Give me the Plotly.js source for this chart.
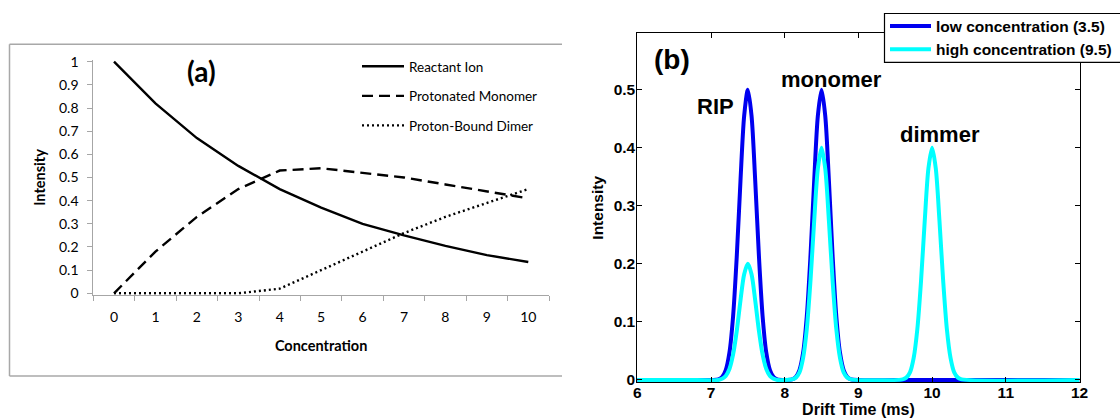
<!DOCTYPE html>
<html><head><meta charset="utf-8">
<script src="https://cdn.plot.ly/plotly-3.0.1.min.js"></script>
<style>html,body{margin:0;padding:0;background:#fff}#chart{width:1120px;height:419px}</style>
</head><body><div id="chart"></div>
<script>
// ---------- Panel (a) data ----------
const concentration = ['0','1','2','3','4','5','6','7','8','9','10'];
const reactantIon       = [1.0, 0.82, 0.67, 0.55, 0.45, 0.37, 0.30, 0.25, 0.205, 0.165, 0.135];
const protonatedMonomer = [0.0, 0.18, 0.33, 0.45, 0.53, 0.54, 0.52, 0.50, 0.47, 0.44, 0.41];
const protonBoundDimer  = [0.0, 0.0, 0.0, 0.0, 0.02, 0.10, 0.18, 0.26, 0.33, 0.39, 0.45];
const seriesNamesA = ['Reactant Ion', 'Protonated Monomer', 'Proton-Bound Dimer'];

// ---------- Panel (b) data ----------
const driftTime = [6, 6.65, 7.1, 7.15, 7.2, 7.25, 7.3, 7.35, 7.4, 7.45, 7.5, 7.55, 7.6, 7.65, 7.7, 7.75, 7.8, 7.85, 7.9,
  8.1, 8.15, 8.2, 8.25, 8.3, 8.35, 8.4, 8.45, 8.5, 8.55, 8.6, 8.65, 8.7, 8.75, 8.8, 8.85, 8.9,
  9.6, 9.65, 9.7, 9.75, 9.8, 9.85, 9.9, 9.95, 10.0, 10.05, 10.1, 10.15, 10.2, 10.25, 10.3, 10.35, 10.4, 12];
const lowConcentration = [0, 0, 0.001, 0.005, 0.017, 0.047, 0.110, 0.214, 0.343, 0.455, 0.5, 0.455, 0.343, 0.214, 0.110, 0.047, 0.017, 0.005, 0.001,
  0.001, 0.005, 0.017, 0.047, 0.110, 0.214, 0.343, 0.455, 0.5, 0.455, 0.343, 0.214, 0.110, 0.047, 0.017, 0.005, 0.001,
  0, 0, 0, 0, 0, 0, 0, 0, 0, 0, 0, 0, 0, 0, 0, 0, 0, 0];
const highConcentration = [0, 0, 0, 0.002, 0.007, 0.019, 0.044, 0.085, 0.137, 0.182, 0.2, 0.182, 0.137, 0.085, 0.044, 0.019, 0.007, 0.002, 0,
  0.001, 0.004, 0.013, 0.038, 0.088, 0.171, 0.274, 0.364, 0.4, 0.364, 0.274, 0.171, 0.088, 0.038, 0.013, 0.004, 0.001,
  0.001, 0.004, 0.013, 0.038, 0.088, 0.171, 0.274, 0.364, 0.4, 0.364, 0.274, 0.171, 0.088, 0.038, 0.013, 0.004, 0.001, 0];
const seriesNamesB = ['low concentration (3.5)', 'high concentration (9.5)'];
const peakLabels = ['RIP', 'monomer', 'dimmer'];

const W = 1120, H = 419;
const px = v => v / W, py = v => (H - v) / H;

const fontA = 'Lato, "Open Sans", sans-serif';
const fontB = '"Liberation Sans", Arial, sans-serif';
const grey = '#a6a6a6';

const traces = [
  {x: concentration, y: reactantIon, name: seriesNamesA[0], type: 'scatter', mode: 'lines',
   line: {color: '#000', width: 2.4}, xaxis: 'x', yaxis: 'y', legend: 'legend', legendgroup: 'a1'},
  {x: concentration, y: protonatedMonomer, name: seriesNamesA[1], type: 'scatter', mode: 'lines',
   line: {color: '#000', width: 2.4, dash: '11px,6px'}, xaxis: 'x', yaxis: 'y', legend: 'legend', legendgroup: 'a2'},
  {x: concentration, y: protonBoundDimer, name: seriesNamesA[2], type: 'scatter', mode: 'lines',
   line: {color: '#000', width: 2.4, dash: '2px,3px'}, xaxis: 'x', yaxis: 'y', legend: 'legend', legendgroup: 'a3'},
  {x: driftTime, y: lowConcentration, name: seriesNamesB[0], type: 'scatter', mode: 'lines',
   line: {color: '#0000f0', width: 4, shape: 'spline', smoothing: 0.8}, xaxis: 'x2', yaxis: 'y2', legend: 'legend2', legendgroup: 'b1'},
  {x: driftTime, y: highConcentration, name: seriesNamesB[1], type: 'scatter', mode: 'lines',
   line: {color: '#00ffff', width: 4, shape: 'spline', smoothing: 0.8}, xaxis: 'x2', yaxis: 'y2', legend: 'legend2', legendgroup: 'b2'}
];

const layout = {
  width: W, height: H,
  margin: {l: 0, r: 0, t: 0, b: 0},
  paper_bgcolor: '#fff', plot_bgcolor: 'rgba(0,0,0,0)',
  showlegend: true,
  xaxis: {
    type: 'category', domain: [px(93.3), px(549)], range: [-0.5, 10.5],
    anchor: 'y', tickson: 'boundaries', ticks: 'outside', ticklen: 5, tickcolor: grey,
    showline: true, linecolor: grey, linewidth: 1, showgrid: false, zeroline: false,
    tickfont: {family: fontA, size: 14, color: '#000'}, ticklabelstandoff: 9,
    title: {text: '<b>Concentration</b>', font: {family: fontA, size: 14.5, color: '#000'}, standoff: 17}
  },
  yaxis: {
    domain: [py(294.7), py(60.3)], range: [-0.006, 1.006], anchor: 'x',
    tickvals: [0,0.1,0.2,0.3,0.4,0.5,0.6,0.7,0.8,0.9,1], ticktext: ['0','0.1','0.2','0.3','0.4','0.5','0.6','0.7','0.8','0.9','1'],
    ticks: 'outside', ticklen: 5, tickcolor: grey,
    showline: true, linecolor: grey, linewidth: 1, showgrid: false, zeroline: false,
    tickfont: {family: fontA, size: 14, color: '#000'}, ticklabelstandoff: 6,
    title: {text: '<b>Intensity</b>', font: {family: fontA, size: 14.5, color: '#000'}, standoff: 9}
  },
  xaxis2: {
    domain: [px(637.3), px(1079.5)], range: [6, 12], anchor: 'y2', dtick: 1,
    ticks: 'inside', ticklen: 5, tickcolor: '#000', mirror: 'ticks',
    showline: true, linecolor: '#000', linewidth: 1, showgrid: false, zeroline: false,
    tickfont: {family: fontB, size: 15.5, color: '#000', weight: 'bold'}, ticklabelstandoff: -4,
    title: {text: '<b>Drift Time (ms)</b>', font: {family: fontB, size: 16, color: '#000'}, standoff: 0}
  },
  yaxis2: {
    domain: [py(382.3), py(33.3)], range: [-0.004, 0.597], anchor: 'x2',
    tickvals: [0,0.1,0.2,0.3,0.4,0.5], ticktext: ['0','0.1','0.2','0.3','0.4','0.5'],
    ticks: 'inside', ticklen: 5, tickcolor: '#000', mirror: 'ticks',
    showline: true, linecolor: '#000', linewidth: 1, showgrid: false, zeroline: false,
    tickfont: {family: fontB, size: 15.5, color: '#000', weight: 'bold'}, ticklabelstandoff: -2,
    title: {text: '<b>Intensity</b>', font: {family: fontB, size: 15.5, color: '#000'}, standoff: 6}
  },
  legend: {
    x: px(357), xanchor: 'left', y: py(51), yanchor: 'top',
    bgcolor: 'rgba(0,0,0,0)', borderwidth: 0, itemwidth: 42, tracegroupgap: 9,
    font: {family: fontA, size: 13.5, color: '#000'}, itemclick: false
  },
  legend2: {
    x: px(885), xanchor: 'left', y: py(9.5), yanchor: 'top',
    bgcolor: 'rgba(0,0,0,0)', borderwidth: 0, itemwidth: 41, tracegroupgap: 0,
    font: {family: fontB, size: 15.5, color: '#000', weight: 'bold'}, itemclick: false
  },
  shapes: [
    {type: 'line', xref: 'paper', yref: 'paper', x0: px(9.5), x1: px(562), y0: py(44.3), y1: py(44.3), line: {color: '#a8a8a8', width: 1.5}},
    {type: 'line', xref: 'paper', yref: 'paper', x0: px(9.5), x1: px(9.5), y0: py(44.3), y1: py(376), line: {color: '#a8a8a8', width: 1.5}},
    {type: 'line', xref: 'paper', yref: 'paper', x0: px(9.5), x1: px(562), y0: py(376), y1: py(376), line: {color: '#a8a8a8', width: 1.5}},
    // legend frame of panel (b)
    {type: 'rect', xref: 'paper', yref: 'paper', layer: 'above', x0: px(884.5), x1: px(1126), y0: py(13.5), y1: py(62.3),
     fillcolor: '#fff', line: {color: '#000', width: 1.2}}
  ],
  annotations: [
    {text: '<b>(a)</b>', xref: 'paper', yref: 'paper', x: px(201), y: py(71), xanchor: 'center', yanchor: 'middle', showarrow: false,
     font: {family: fontA, size: 28, color: '#000'}},
    {text: '<b>(b)</b>', xref: 'paper', yref: 'paper', x: px(672), y: py(60), xanchor: 'center', yanchor: 'middle', showarrow: false,
     font: {family: fontB, size: 28, color: '#000'}},
    {text: '<b>' + peakLabels[0] + '</b>', xref: 'paper', yref: 'paper', x: px(715), y: py(106), xanchor: 'center', yanchor: 'middle', showarrow: false,
     font: {family: fontB, size: 22, color: '#000'}},
    {text: '<b>' + peakLabels[1] + '</b>', xref: 'paper', yref: 'paper', x: px(831), y: py(80), xanchor: 'center', yanchor: 'middle', showarrow: false,
     font: {family: fontB, size: 22, color: '#000'}},
    {text: '<b>' + peakLabels[2] + '</b>', xref: 'paper', yref: 'paper', x: px(940), y: py(134), xanchor: 'center', yanchor: 'middle', showarrow: false,
     font: {family: fontB, size: 22, color: '#000'}}
  ]
};

Plotly.newPlot('chart', traces, layout, {staticPlot: true, displayModeBar: false});
</script>
</body></html>
